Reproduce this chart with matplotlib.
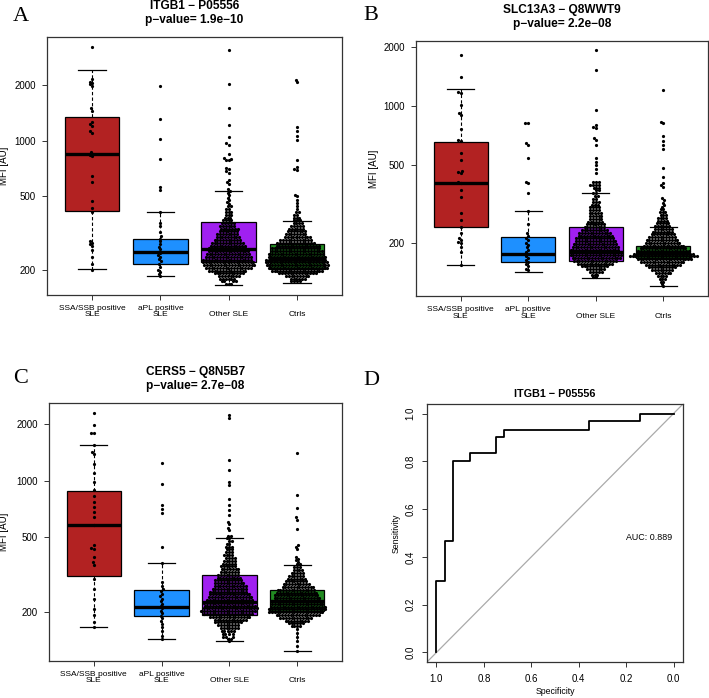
import numpy as np
import matplotlib
matplotlib.use('Agg')
import matplotlib.pyplot as plt

plt.rcParams['font.family'] = ['Liberation Sans', 'DejaVu Sans']

# ---------------- data ----------------
categories = ['SSA/SSB positive\nSLE', 'aPL positive\nSLE', 'Other SLE', 'Ctrls']
box_colors = ['#B22222', '#1E90FF', '#A020F0', '#228B22']
yticks = [200, 500, 1000, 2000]
ytick_labels = ['200', '500', '1000', '2000']

# Panel A: ITGB1
A_title = 'ITGB1 \u2212 P05556'
A_pval = 'p\u2212value= 1.9e\u221210'
A_ssa = [3220, 2150, 2080, 2050, 2010, 1960, 1500, 1450, 1260, 1230, 1200, 1130, 1100, 870, 850,
         840, 820, 640, 600, 470, 430, 410, 285, 280, 275, 270, 255, 235, 215, 200]
A_apl = [1970, 1300, 1020, 790, 560, 540, 410, 360, 345, 320, 305, 295, 285, 275, 265, 258, 250,
         245, 240, 235, 228, 222, 215, 208, 200, 195, 190, 185]
A_other_tail = [3080, 2030, 1500, 1210, 1050, 970, 950, 850, 800, 790, 785, 780, 710, 700, 680, 665,
                615, 600, 585, 545, 530, 520, 505, 490, 475, 465, 455]
A_other_levels = [440, 425, 410, 395, 382, 370, 357, 345, 333, 322, 311, 300, 290, 280, 270, 261, 252,
                  243, 235, 227, 219, 212, 205, 198, 191, 185, 179, 173, 168]
A_other_counts = [2, 2, 3, 3, 3, 4, 5, 6, 7, 7, 8, 9, 10, 12, 13, 14, 15, 16, 17, 18, 19, 19, 17, 14,
                  11, 8, 6, 4, 3]
A_ctrl_tail = [2130, 2060, 1190, 1120, 1060, 1010, 785, 720, 700, 690, 510, 500, 478, 460, 440]
A_ctrl_levels = [425, 410, 397, 383, 370, 357, 345, 333, 322, 311, 300, 290, 280, 270, 261, 252, 243,
                 235, 227, 219, 212, 205, 198, 191, 185, 179, 173]
A_ctrl_counts = [1, 2, 2, 3, 3, 4, 5, 6, 7, 8, 10, 12, 14, 16, 18, 19, 20, 21, 22, 23, 23, 22, 19, 14,
                 9, 6, 4]
A_whislo = [202, 185, 165, 170]
A_q1 = [415, 216, 220, 202]
A_med = [844, 249, 259, 232]
A_q3 = [1343, 295, 363, 275]
A_whishi = [2402, 412, 535, 368]
A_ylim = [146, 3630]

# Panel B: SLC13A3
B_title = 'SLC13A3 \u2212 Q8WWT9'
B_pval = 'p\u2212value= 2.2e\u221208'
B_ssa = [1826, 1411, 1180, 1160, 1012, 920, 900, 761, 671, 660, 576, 530, 468, 460, 455, 411, 405,
         372, 343, 284, 262, 241, 225, 212, 207, 203, 200, 191, 180, 154]
B_apl = [822, 815, 645, 635, 543, 411, 404, 359, 290, 251, 225, 218, 212, 207, 200, 195, 190, 185,
         180, 176, 172, 168, 164, 160, 156, 152, 148, 145]
B_other_tail = [1930, 1530, 955, 800, 785, 773, 690, 672, 634, 545, 520, 500, 478, 457]
B_other_levels = [410, 396, 383, 371, 359, 347, 336, 325, 314, 304, 294, 284, 275, 266, 257, 249, 241,
                  233, 225, 218, 211, 204, 197, 191, 185, 179, 173, 167, 162, 157, 152, 147, 142, 138,
                  134]
B_other_counts = [3, 4, 3, 2, 2, 2, 2, 3, 3, 4, 4, 5, 5, 5, 6, 7, 8, 10, 12, 13, 14, 15, 16, 17, 18,
                  19, 19, 18, 16, 13, 10, 7, 5, 3, 2]
B_ctrl_tail = [1200, 830, 820, 700, 660, 630, 600, 480, 436, 405, 395, 386, 338, 330, 320, 312, 306]
B_ctrl_levels = [297, 287, 278, 269, 260, 252, 244, 236, 228, 221, 214, 207, 200, 194, 188, 182, 176,
                 171, 165, 160, 155, 150, 145, 140, 136, 131, 127, 123, 120]
B_ctrl_counts = [2, 3, 3, 4, 4, 5, 6, 7, 8, 9, 10, 12, 13, 15, 17, 19, 22, 25, 20, 16, 13, 10, 8, 6,
                 4, 3, 2, 1, 1]
B_whislo = [154, 142, 132, 120]
B_q1 = [240, 160, 162, 167]
B_med = [403, 176, 179, 178]
B_q3 = [653, 215, 240, 194]
B_whishi = [1225, 290, 359, 240]
B_ylim = [107.3, 2146]

# Panel C: CERS5
C_title = 'CERS5 \u2212 Q8N5B7'
C_pval = 'p\u2212value= 2.7e\u221208'
C_ssa = [2288, 1969, 1800, 1790, 1540, 1420, 1390, 1230, 1100, 980, 890, 830, 770, 720, 680, 640, 583,
         454, 440, 433, 393, 368, 356, 300, 266, 235, 207, 193, 177, 166]
C_apl = [1240, 963, 742, 710, 673, 443, 364, 289, 275, 265, 258, 250, 243, 236, 229, 222, 215, 209,
         203, 197, 191, 185, 179, 173, 166, 158, 150, 143]
C_other_tail = [2225, 2150, 1280, 1135, 985, 950, 800, 740, 700, 656, 600, 585, 560, 546]
C_other_levels = [510, 495, 478, 462, 446, 431, 416, 402, 388, 375, 362, 350, 338, 327, 316, 305, 295,
                  285, 275, 266, 257, 248, 240, 232, 224, 216, 209, 202, 195, 188, 182, 176, 170, 164,
                  158, 153, 148, 144, 140]
C_other_counts = [2, 2, 2, 2, 3, 3, 3, 4, 4, 5, 5, 6, 7, 7, 8, 9, 10, 11, 12, 13, 14, 15, 16, 17, 18,
                  19, 20, 20, 18, 15, 12, 10, 8, 7, 5, 4, 3, 2, 1]
C_ctrl_tail = [1400, 835, 714, 640, 620, 555, 454, 445, 433, 393, 385, 378, 370, 162, 155, 148, 140,
               132, 124]
C_ctrl_levels = [358, 346, 334, 323, 312, 301, 291, 281, 272, 263, 254, 246, 238, 230, 222, 214, 207,
                 200, 193, 187, 180, 174, 168]
C_ctrl_counts = [2, 3, 4, 5, 6, 7, 8, 10, 12, 14, 15, 16, 17, 18, 19, 20, 21, 20, 16, 12, 9, 6, 4]
C_whislo = [166, 143, 140, 124]
C_q1 = [311, 190, 192, 202]
C_med = [583, 214, 226, 230]
C_q3 = [877, 263, 313, 263]
C_whishi = [1540, 364, 495, 354]
C_ylim = [109.8, 2586]

# Panel D: ROC curve ITGB1
D_title = 'ITGB1 \u2212 P05556'
roc_spec = [1.0, 1.0, 0.964, 0.964, 0.929, 0.929, 0.857, 0.857, 0.75, 0.75, 0.714, 0.714, 0.357,
            0.357, 0.143, 0.143, 0.0]
roc_sens = [0.0, 0.3, 0.3, 0.467, 0.467, 0.8, 0.8, 0.833, 0.833, 0.9, 0.9, 0.933, 0.933, 0.967,
            0.967, 1.0, 1.0]
auc_text = 'AUC: 0.889'
roc_ticks = [1.0, 0.8, 0.6, 0.4, 0.2, 0.0]

# ---------------- figure ----------------
W, H = 709, 698
fig = plt.figure(figsize=(W / 100, H / 100), dpi=100)
AXC = '#333333'


def px_axes(x0, y0, x1, y1):
    return fig.add_axes([x0 / W, 1 - y1 / H, (x1 - x0) / W, (y1 - y0) / H])


def swarm(ax, pos, vals, d=2.8):
    vals = np.sort(np.asarray(vals, float))
    pts = ax.transData.transform(np.column_stack([np.full(len(vals), pos), vals]))
    ypix = pts[:, 1]
    xs = np.zeros(len(vals))
    placed_x, placed_y = [], []
    for i, y in enumerate(ypix):
        near = [(px, py) for px, py in zip(placed_x, placed_y) if abs(py - y) < d]
        cands = [0.0]
        for px, py in near:
            dx = np.sqrt(d * d - (py - y) ** 2)
            cands += [px + dx, px - dx]
        cands = sorted(cands, key=lambda c: (abs(c), c))
        chosen = cands[-1]
        for c in cands:
            if all((c - px) ** 2 + (y - py) ** 2 >= d * d - 1e-6 for px, py in near):
                chosen = c
                break
        xs[i] = chosen
        placed_x.append(chosen)
        placed_y.append(y)
    p0 = ax.transData.transform((pos, vals[0]))[0]
    p1 = ax.transData.transform((pos + 1, vals[0]))[0]
    return pos + xs / (p1 - p0), vals


def style_axes(ax):
    for s in ax.spines.values():
        s.set_color(AXC)
        s.set_linewidth(0.9)
    ax.tick_params(direction='out', length=3.8, width=0.7, color=AXC)


def box_panel(rect, title, pval, groups, whislo, q1, med, q3, whishi, ylim, ylab_x):
    ax = px_axes(*rect)
    ax.set_yscale('log')
    ax.set_xlim(0.34, 4.66)
    ax.set_ylim(*ylim)
    stats = []
    for i in range(4):
        stats.append(dict(whislo=whislo[i], q1=q1[i], med=med[i], q3=q3[i], whishi=whishi[i]))
    b = ax.bxp(stats, positions=[1, 2, 3, 4], widths=0.8, patch_artist=True, showfliers=False,
               capwidths=0.4,
               boxprops=dict(linewidth=0.9, edgecolor='black'),
               whiskerprops=dict(linewidth=0.8, linestyle=(0, (3, 2)), color='black'),
               capprops=dict(linewidth=0.9, color='black'),
               medianprops=dict(linewidth=2.4, color='black'), zorder=1)
    for patch, col in zip(b['boxes'], box_colors):
        patch.set_facecolor(col)
    for m in b['medians']:
        m.set_zorder(3)
    for i, vals in enumerate(groups):
        xs, ys = swarm(ax, i + 1, vals)
        ax.plot(xs, ys, 'o', ms=2.3, mew=0, color='black', zorder=2)
    ax.set_yticks(yticks)
    ax.set_yticklabels(ytick_labels, fontsize=7)
    ax.yaxis.set_minor_locator(matplotlib.ticker.NullLocator())
    ax.set_xticks([1, 2, 3, 4])
    ax.set_xticklabels([''] * 4)
    style_axes(ax)
    ax.tick_params(axis='y', pad=4)
    for i, lab in enumerate(categories):
        ax.annotate(lab, xy=(i + 1, 0), xycoords=('data', 'axes fraction'),
                    xytext=(0, -23.5), textcoords='offset pixels', ha='center', va='bottom',
                    fontsize=6, linespacing=0.95, multialignment='center')
    ax.annotate(title, xy=(0.5, 1), xycoords='axes fraction', xytext=(0, 27.8),
                textcoords='offset pixels', ha='center', va='baseline', fontsize=8.6,
                fontweight='bold')
    ax.annotate(pval, xy=(0.5, 1), xycoords='axes fraction', xytext=(0, 14.2),
                textcoords='offset pixels', ha='center', va='baseline', fontsize=8.6,
                fontweight='bold')
    ax.set_ylabel('MFI [AU]', fontsize=7, va='center')
    ax.yaxis.set_label_coords(ylab_x, 0.5)
    return ax


def mk(tail, levels, counts):
    return np.concatenate([np.asarray(tail, float), np.repeat(np.asarray(levels, float), counts)])


box_panel((47, 37, 342, 295), A_title, A_pval,
          [A_ssa, A_apl, mk(A_other_tail, A_other_levels, A_other_counts),
           mk(A_ctrl_tail, A_ctrl_levels, A_ctrl_counts)],
          A_whislo, A_q1, A_med, A_q3, A_whishi, A_ylim, (4 - 47) / 295)

box_panel((416, 41, 708, 296), B_title, B_pval,
          [B_ssa, B_apl, mk(B_other_tail, B_other_levels, B_other_counts),
           mk(B_ctrl_tail, B_ctrl_levels, B_ctrl_counts)],
          B_whislo, B_q1, B_med, B_q3, B_whishi, B_ylim, (374 - 416) / 292)

box_panel((49, 403, 342, 661), C_title, C_pval,
          [C_ssa, C_apl, mk(C_other_tail, C_other_levels, C_other_counts),
           mk(C_ctrl_tail, C_ctrl_levels, C_ctrl_counts)],
          C_whislo, C_q1, C_med, C_q3, C_whishi, C_ylim, (4 - 49) / 293)

# ROC panel
axD = px_axes(427, 404, 683, 662)
axD.set_xlim(1.04, -0.04)
axD.set_ylim(-0.04, 1.04)
axD.axline((1, 0), (0, 1), color='#AAAAAA', lw=0.9, zorder=1)
axD.plot(roc_spec, roc_sens, color='black', lw=1.3, zorder=2)
axD.set_xticks(roc_ticks)
axD.set_xticklabels(['%.1f' % t for t in roc_ticks], fontsize=7)
axD.set_yticks(roc_ticks[::-1])
axD.set_yticklabels(['%.1f' % t for t in roc_ticks[::-1]], fontsize=7, rotation=90, va='center')
style_axes(axD)
axD.tick_params(axis='x', pad=4.5)
axD.tick_params(axis='y', pad=4.5)
axD.text(0.105, 0.48, auc_text, ha='center', va='center', fontsize=6.4)
axD.set_xlabel('Specificity', fontsize=6.3)
axD.xaxis.set_label_coords(0.5, -30 / 258)
axD.set_ylabel('Sensitivity', fontsize=6.3, va='center')
axD.yaxis.set_label_coords(-31 / 256, 0.5)
axD.xaxis.label.set_va('center')
axD.annotate(D_title, xy=(0.5, 1), xycoords='axes fraction', xytext=(0, 7),
             textcoords='offset pixels', ha='center', va='baseline', fontsize=7.8,
             fontweight='bold')

# Panel letters
for letter, (lx, ly) in zip('ABCD', [(13, 21), (363, 20), (13, 383), (363, 385)]):
    fig.text(lx / W, 1 - ly / H, letter, family=['Liberation Serif', 'DejaVu Serif'],
             fontsize=16, ha='left', va='baseline')

fig.savefig('out.png', dpi=100)
